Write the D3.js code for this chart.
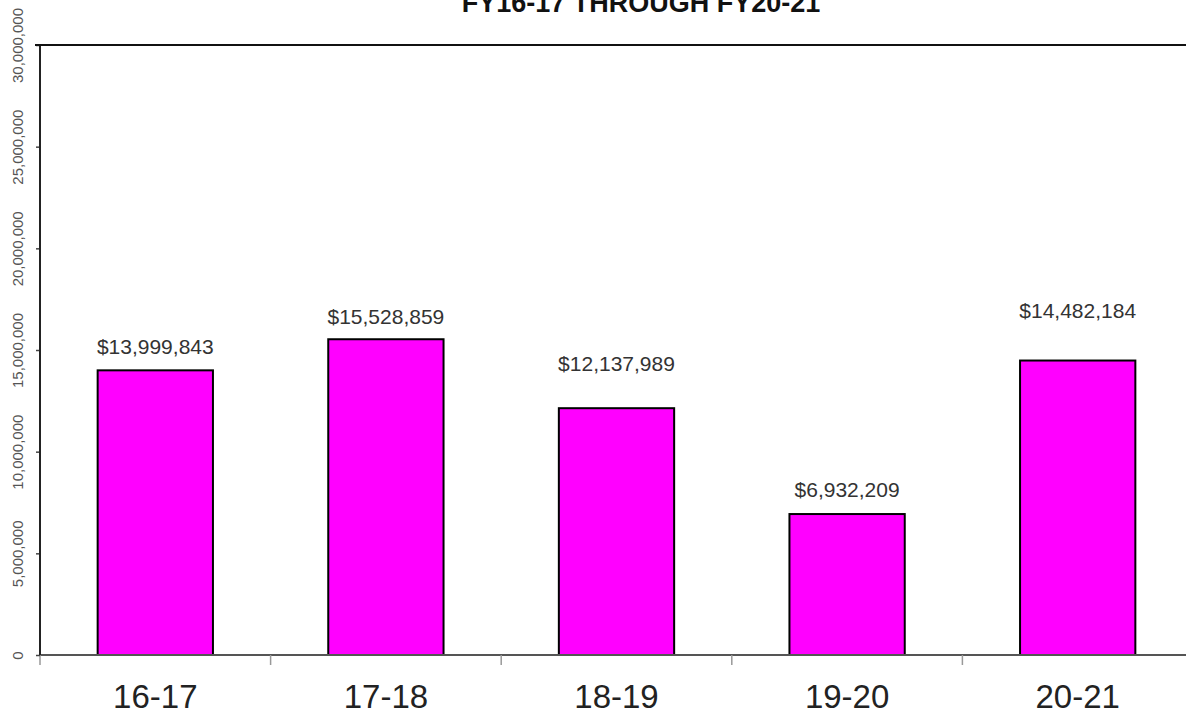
<!DOCTYPE html>
<html lang="en">
  <head>
    <meta charset="UTF-8" />
    <title>FY16-17 through FY20-21</title>
    <script src="https://d3js.org/d3.v7.min.js"></script>
    <style>
      body { margin: 0; background: #fff; }
      text { font-family: Arial, "Liberation Sans", sans-serif; }
    </style>
  </head>
  <body>
    <div id="chart"></div>
    <script>
      // data
      var years = ["16-17", "17-18", "18-19", "19-20", "20-21"];
      var amounts = [13999843, 15528859, 12137989, 6932209, 14482184];
      var yTicks = [0, 5000000, 10000000, 15000000, 20000000, 25000000, 30000000];
      var title = "FY16-17 THROUGH FY20-21";

      var width = 1186, height = 717;
      // how far above each bar its label sits (px), as in the original
      var labelLift = [24, 23, 45, 24, 50];

      var svg = d3.select("#chart").append("svg")
        .attr("width", width)
        .attr("height", height);

      var x = d3.scaleBand()
        .domain(years)
        .range([40, 40 + 5 * 230.6])
        .paddingInner(0.5)
        .paddingOuter(0.25);

      var y = d3.scaleLinear()
        .domain([0, 30000000])
        .range([655, 45]);

      // title (cropped at the top, like the original)
      svg.append("text")
        .attr("x", 641)
        .attr("y", 12)
        .attr("text-anchor", "middle")
        .attr("font-size", 27)
        .attr("font-weight", "bold")
        .attr("fill", "#111")
        .text(title);

      // bars
      svg.selectAll("rect.bar")
        .data(amounts)
        .enter()
        .append("rect")
        .attr("class", "bar")
        .attr("x", function(d, i) { return x(years[i]); })
        .attr("y", function(d) { return y(d); })
        .attr("width", x.bandwidth())
        .attr("height", function(d) { return y(0) - y(d); })
        .attr("fill", "#FF00FF")
        .attr("stroke", "#000")
        .attr("stroke-width", 2);

      // value labels
      svg.selectAll("text.val")
        .data(amounts)
        .enter()
        .append("text")
        .attr("class", "val")
        .attr("x", function(d, i) { return x(years[i]) + x.bandwidth() / 2; })
        .attr("y", function(d, i) { return y(d) - labelLift[i]; })
        .attr("dy", "0.35em")
        .attr("text-anchor", "middle")
        .attr("font-size", 21)
        .attr("fill", "#333")
        .text(function(d) { return "$" + d3.format(",")(d); });

      // x axis: baseline, ticks at band edges, labels
      var gX = svg.append("g").attr("transform", "translate(0," + y(0) + ")");
      gX.append("line")
        .attr("x1", 40).attr("x2", width)
        .attr("stroke", "#555").attr("stroke-width", 2);
      years.forEach(function(c) {
        gX.append("line")
          .attr("x1", x(c) - x.step() * 0.25)
          .attr("x2", x(c) - x.step() * 0.25)
          .attr("y1", 0).attr("y2", 10)
          .attr("stroke", "#999").attr("stroke-width", 1.5);
        gX.append("text")
          .attr("x", x(c) + x.bandwidth() / 2)
          .attr("y", 53)
          .attr("text-anchor", "middle")
          .attr("font-size", 33)
          .attr("fill", "#222")
          .text(c);
      });

      // y axis
      var yAxis = d3.axisLeft(y)
        .tickValues(yTicks)
        .tickSize(4)
        .tickPadding(0)
        .tickFormat(d3.format(","));
      var gY = svg.append("g")
        .attr("transform", "translate(40,0)")
        .call(yAxis);
      gY.select(".domain").remove();
      gY.selectAll(".tick line").attr("stroke", "#444").attr("stroke-width", 1.5);
      gY.selectAll(".tick text")
        .attr("x", null).attr("dy", null)
        .attr("transform", "translate(-22,0) rotate(-90)")
        .attr("text-anchor", "middle")
        .attr("dy", "0.35em")
        .attr("font-size", 15)
        .attr("fill", "#555");

      svg.append("line")
        .attr("x1", 40).attr("x2", 40)
        .attr("y1", y(30000000)).attr("y2", y(0))
        .attr("stroke", "#222").attr("stroke-width", 2);

      // top border of the plot
      svg.append("line")
        .attr("x1", 35).attr("x2", width)
        .attr("y1", y(30000000)).attr("y2", y(30000000))
        .attr("stroke", "#111").attr("stroke-width", 2);
    </script>
  </body>
</html>
